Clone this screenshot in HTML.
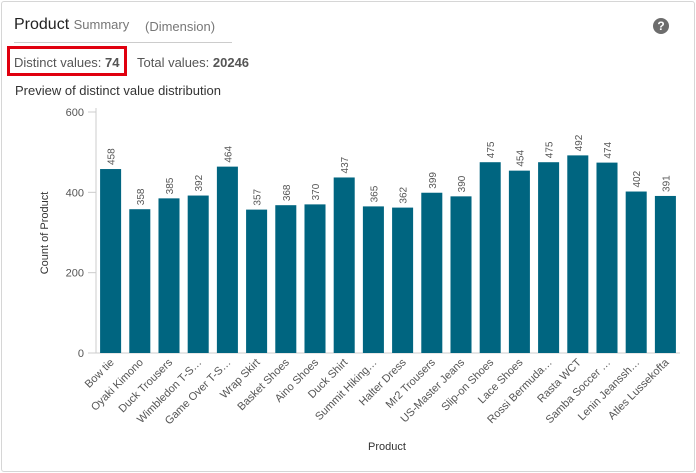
<!DOCTYPE html>
<html><head><meta charset="utf-8"><style>
body{margin:0;background:#fff;font-family:"Liberation Sans",sans-serif;}
.card{position:absolute;left:1px;top:1px;width:692px;height:469px;border:1px solid #d6d6d6;border-radius:3px;background:#fff;}
.t{position:absolute;white-space:nowrap;color:#333;}
</style></head><body>
<div class="card"></div>
<div class="t" style="left:14px;top:16px;font-size:16px;color:#222">Product <span style="font-size:13px;color:#777">Summary</span></div>
<div class="t" style="left:145px;top:19px;font-size:13px;color:#777">(Dimension)</div>
<div style="position:absolute;left:14px;top:42px;width:218px;height:1px;background:#ccc"></div>
<div style="position:absolute;left:653px;top:18px;width:16px;height:16px;border-radius:50%;background:#6d6d6d;color:#fff;font-size:12px;font-weight:bold;text-align:center;line-height:16px">?</div>
<div style="position:absolute;left:7px;top:46px;width:114px;height:24px;border:3px solid #e0000f"></div>
<div class="t" style="left:14px;top:55px;font-size:13px;color:#555">Distinct values: <b>74</b></div>
<div class="t" style="left:137px;top:55px;font-size:13px;color:#555">Total values: <b>20246</b></div>
<div class="t" style="left:15px;top:83px;font-size:13px;color:#333">Preview of distinct value distribution</div>
<svg id="c" width="696" height="473" style="position:absolute;left:0;top:0"></svg>
<script>
const categories=["Bow tie","Oyaki Kimono","Duck Trousers","Wimbledon T-S…","Game Over T-S…","Wrap Skirt","Basket Shoes","Aino Shoes","Duck Shirt","Summit Hiking…","Halter Dress","Mr2 Trousers","US-Master Jeans","Slip-on Shoes","Lace Shoes","Rossi Bermuda…","Rasta WCT","Samba Soccer …","Lenin Jeanssh…","Atles Lussekofta"];
const values=[458,358,385,392,464,357,368,370,437,365,362,399,390,475,454,475,492,474,402,391];
const yTicks=[0,200,400,600];
const ns="http://www.w3.org/2000/svg",svg=document.getElementById('c');
const x0=96,x1=680,yTop=112,yBot=353,yMax=600;
const y=v=>yBot-(v/yMax)*(yBot-yTop);
const step=(x1-x0)/categories.length;
const xc=i=>x0+step*(i+0.5);
function mk(t,a,txt){const e=document.createElementNS(ns,t);for(const k in a)e.setAttribute(k,a[k]);if(txt!=null)e.textContent=txt;svg.appendChild(e);return e;}
let e=mk('line',{x1:x0,y1:yTop-4,x2:x0,y2:yBot,stroke:'#ccc'});


yTicks.forEach(v=>{
 let l=mk('line',{x1:x0-8,y1:y(v),x2:x0,y2:y(v),stroke:'#ccc'});
 
 
 let t=mk('text',{x:x0-12,y:y(v)+4,'text-anchor':'end','font-size':11,fill:'#555'},v);
 
 
});
let xl=mk('line',{x1:x0,y1:yBot,x2:x1,y2:yBot,stroke:'#ccc'});


const bw=step*0.72;
categories.forEach((c,i)=>{
 const v=values[i];
 let r=mk('rect',{x:xc(i)-bw/2,y:y(v),width:bw,height:yBot-y(v),fill:'#006580'});
 
 
 let t=mk('text',{x:0,y:0,transform:`translate(${xc(i)+4},${y(v)-4}) rotate(-90)`,'font-size':10,fill:'#555'},v);
 
 
 let lb=mk('text',{x:0,y:0,transform:`translate(${xc(i)+4},${yBot+10}) rotate(-45)`,'text-anchor':'end','font-size':11,fill:'#555'},c);
 
 
});
let yt=mk('text',{x:0,y:0,transform:'translate(48,233) rotate(-90)','text-anchor':'middle','font-size':11,fill:'#333'},'Count of Product');


let xt=mk('text',{x:387,y:450,'text-anchor':'middle','font-size':11,fill:'#333'},'Product');


</script>
</body></html>
